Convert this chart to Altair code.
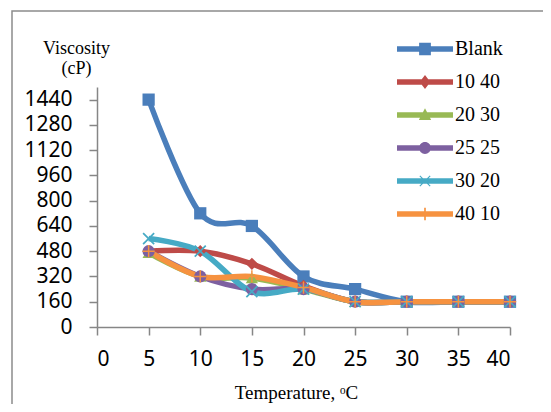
import altair as alt
import pandas as pd

temps = [5, 10, 15, 20, 25, 30, 35, 40]
series_names = ["Blank", "10 40", "20 30", "25 25", "30 20", "40 10"]
blank = [1440, 720, 640, 320, 240, 160, 160, 160]
s1040 = [480, 480, 400, 260, 160, 160, 160, 160]
s2030 = [470, 320, 310, 240, 160, 160, 160, 160]
s2525 = [480, 320, 240, 240, 160, 160, 160, 160]
s3020 = [560, 480, 224, 240, 160, 160, 160, 160]
s4010 = [480, 320, 320, 250, 160, 160, 160, 160]
y_ticks = [0, 160, 320, 480, 640, 800, 960, 1120, 1280, 1440]
x_ticks = [0, 5, 10, 15, 20, 25, 30, 35, 40]

colors = ["#4A7EBB", "#BE4B48", "#98B954", "#7D60A0", "#46AAC5", "#F69240"]

X_PATH = "M-1,-0.8L-0.8,-1L1,0.8L0.8,1Z M0.8,-1L1,-0.8L-0.8,1L-1,0.8Z"
PLUS_PATH = "M-0.12,-1H0.12V1H-0.12Z M-1,-0.12H1V0.12H-1Z"
plot_shapes = ["square", "diamond", "triangle-up", "circle", X_PATH, PLUS_PATH]

LINE = "M-1,-0.1H1V0.1H-1Z "
legend_shapes = [
    LINE + "M-0.21,-0.22H0.21V0.22H-0.21Z",
    LINE + "M0,-0.25L0.19,0L0,0.25L-0.19,0Z",
    LINE + "M0,-0.24L0.22,0.18H-0.22Z",
    LINE + "M-0.21,0A0.21,0.21,0,1,1,0.21,0A0.21,0.21,0,1,1,-0.21,0Z",
    LINE + "M-0.2,-0.17L-0.17,-0.2L0.2,0.17L0.17,0.2Z M0.17,-0.2L0.2,-0.17L-0.17,0.2L-0.2,0.17Z",
    LINE + "M-0.03,-0.22H0.03V0.22H-0.03Z",
]

rows = []
for name, vals in zip(series_names, [blank, s1040, s2030, s2525, s3020, s4010]):
    for t, v in zip(temps, vals):
        rows.append({"series": name, "name": name, "temp": t, "visc": v})
df = pd.DataFrame(rows)

x_enc = alt.X(
    "temp:Q",
    scale=alt.Scale(domain=[0, 40], nice=False),
    axis=alt.Axis(
        values=x_ticks,
        format="d",
        title="Temperature, ᵒC",
        titleFont="Liberation Serif",
        titleFontSize=19,
        titleFontWeight="normal",
        titleColor="black",
        titleX=199,
        titleY=71,
        titleAlign="center",
        titleBaseline="alphabetic",
        labelPadding=13,
    ),
)
y_enc = alt.Y(
    "visc:Q",
    scale=alt.Scale(domain=[0, 1520], nice=False),
    axis=alt.Axis(
        values=y_ticks,
        format="d",
        title=["Viscosity", "(cP)"],
        titleAngle=0,
        titleFont="Liberation Serif",
        titleFontSize=18,
        titleFontWeight="normal",
        titleColor="black",
        titleX=-21,
        titleY=-34,
        titleAlign="center",
        titleBaseline="alphabetic",
        titleLineHeight=20,
        labelPadding=17,
    ),
)
color_scale = alt.Scale(domain=series_names, range=colors)

lines = alt.Chart(df).mark_line(interpolate="cardinal", strokeWidth=5.5).encode(
    x=x_enc,
    y=y_enc,
    color=alt.Color("series:N", scale=color_scale, legend=None, sort=series_names),
    order=alt.Order("temp:Q"),
)

points = alt.Chart(df).mark_point(filled=True, size=150, opacity=1).encode(
    x=x_enc,
    y=y_enc,
    color=alt.Color("series:N", scale=color_scale, legend=None, sort=series_names),
    shape=alt.Shape("series:N", scale=alt.Scale(domain=series_names, range=plot_shapes), legend=None),
)

legend_layer = (
    alt.Chart(df)
    .transform_filter("datum.temp < 0")
    .mark_point(filled=True, opacity=1)
    .encode(
        color=alt.Color(
            "name:N",
            scale=alt.Scale(domain=series_names, range=colors),
            legend=alt.Legend(title=None),
        ),
        shape=alt.Shape(
            "name:N",
            scale=alt.Scale(domain=series_names, range=legend_shapes),
            legend=alt.Legend(title=None),
        ),
    )
)

frame = alt.Chart(pd.DataFrame({"k": [0]})).mark_rect(
    fill=None, stroke="#8c8c8c", strokeWidth=1.5
).encode(
    x=alt.value(-85), x2=alt.value(470), y=alt.value(-76), y2=alt.value(360)
)

chart = (
    alt.layer(frame, lines, points, legend_layer)
    .resolve_scale(color="independent", shape="independent")
    .properties(
        width=413,
        height=240,
        autosize=alt.AutoSizeParams(type="none"),
        padding={"left": 89, "top": 79, "right": 33, "bottom": 77},
    )
    .configure_view(stroke=None)
    .configure_axis(
        grid=False,
        domainColor="#868686",
        domainWidth=1.5,
        tickColor="#868686",
        tickWidth=1.5,
        tickSize=8,
        labelFont="Noto Sans",
        labelFontSize=21,
        labelColor="black",
    )
    .configure_legend(
        orient="none",
        legendX=300,
        legendY=-54.5,
        direction="vertical",
        clipHeight=33,
        rowPadding=0,
        padding=0,
        symbolSize=3136,
        symbolStrokeWidth=0,
        labelFont="Liberation Serif",
        labelFontSize=20,
        labelColor="black",
        labelOffset=2,
        labelLimit=200,
    )
)

chart.save("out.html", embed_options={"renderer": "svg", "actions": False})
